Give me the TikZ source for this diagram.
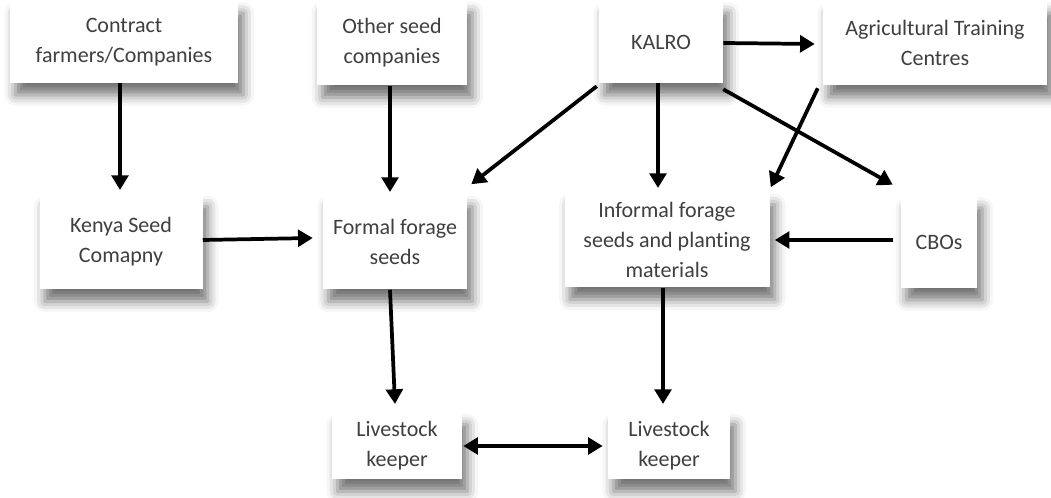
\documentclass[tikz,border=0pt]{standalone}
\usepackage{fontspec}
\setmainfont{Carlito}[Ligatures=NoCommon]
\usetikzlibrary{arrows.meta,shadows.blur}
\definecolor{txt}{HTML}{3F3F3F}
\tikzset{
  box/.style={draw=none, fill=white, align=center, text=txt, inner sep=0pt,
    font=\fontsize{16.5}{22.5}\selectfont,
    blur shadow={shadow xshift=4pt, shadow yshift=-9pt, shadow blur radius=8pt, shadow opacity=55}},
  conn/.style={line width=2.8pt, -{Triangle[length=11pt,width=12.5pt]}},
  bconn/.style={line width=2.8pt, {Triangle[length=11pt,width=12.5pt]}-{Triangle[length=11pt,width=12.5pt]}}
}
\begin{document}
\begin{tikzpicture}[x=0.75pt,y=-0.75pt]
\useasboundingbox (0,0) rectangle (1051,498);
\node[box, minimum width=171pt, minimum height=61.5pt] (contract) at (124,42) {Contract\\farmers/Companies};
\node[box, minimum width=112.5pt, minimum height=63.75pt] (other) at (392,43) {Other seed\\companies};
\node[box, minimum width=93pt, minimum height=61.5pt] (kalro) at (661,42) {KALRO};
\node[box, minimum width=168pt, minimum height=63pt] (agri) at (935,43) {Agricultural Training\\Centres};
\node[box, minimum width=122.25pt, minimum height=71.25pt] (kenya) at (121,242) {Kenya Seed\\Comapny};
\node[box, minimum width=108pt, minimum height=71.25pt] (formal) at (395,242) {Formal forage\\seeds};
\node[box, minimum width=153.75pt, minimum height=71.25pt] (informal) at (667,240) {Informal forage\\seeds and planting\\materials};
\node[box, minimum width=57pt, minimum height=69pt] (cbos) at (939,242) {CBOs};
\node[box, minimum width=97.5pt, minimum height=50.25pt] (lk1) at (397,446) {Livestock\\keeper};
\node[box, minimum width=91.5pt, minimum height=50.25pt] (lk2) at (669,446) {Livestock\\keeper};

\draw[conn] (contract.south -| 120,0) -- (120,190);
\draw[conn] (other.south -| 390,0) -- (390,192);
\draw[conn] ([shift={(-2,3)}]kalro.south west) -- ([shift={(4,-10)}]formal.north east);
\draw[conn] (kalro.south -| 658,0) -- (658,188);
\draw[conn] (kalro.east |- 0,43) -- ([shift={(-8,1)}]agri.west);
\draw[conn] ([shift={(0,6)}]kalro.south east) -- ([shift={(-8,-11)}]cbos.north west);
\draw[conn] ([shift={(-5,3)}]agri.south west) -- ([shift={(1,-5)}]informal.north east);
\draw[conn] (kenya.east |- 0,240) -- ([shift={(-10,-4)}]formal.west);
\draw[conn] ([shift={(-8,-2)}]cbos.west) -- ([shift={(5,0)}]informal.east);
\draw[conn] (formal.south -| 390,0) -- (395,404);
\draw[conn] (informal.south -| 663,0) -- (663,404);
\draw[bconn] ([shift={(1,0)}]lk1.east) -- ([shift={(-5,0)}]lk2.west);
\end{tikzpicture}
\end{document}
